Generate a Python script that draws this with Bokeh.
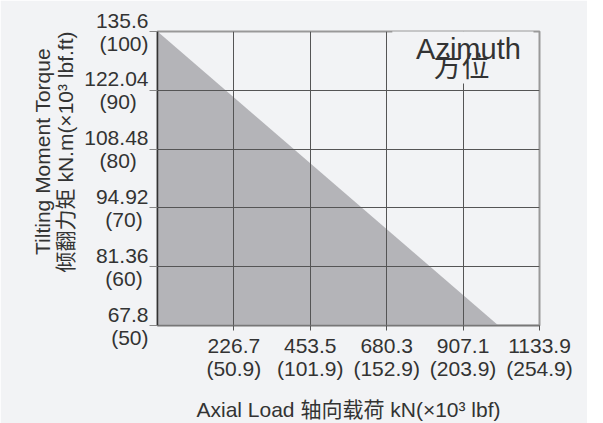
import math
from bokeh.plotting import figure
from bokeh.models import Range1d, Label, FixedTicker, Title
from bokeh.embed import file_html
from bokeh.resources import INLINE

# Axis ticks: axial load kN with (x10^3 lbf) equivalents
axial_ticks = [226.7, 453.5, 680.3, 907.1, 1133.9]
axial_ticks_lbf = ["50.9", "101.9", "152.9", "203.9", "254.9"]
# Tilting moment kN.m with (x10^3 lbf.ft) equivalents
moment_ticks = [67.8, 81.36, 94.92, 108.48, 122.04, 135.6]
moment_ticks_lbf = ["50", "60", "70", "80", "90", "100"]

# Load capacity boundary (straight line)
curve_axial = [0, 1012]
curve_moment = [135.6, 67.8]

BG = "#f2f3f5"
FONT = "Liberation Sans, Noto Sans CJK SC"
TXT = "#333333"


def _em(s):
    # approximate Arial advance widths, used to centre the two label lines
    w = {".": 0.278, "(": 0.333, ")": 0.333}
    return sum(w.get(c, 0.556) for c in s)


def two_line(top, bottom):
    pad = max(0, round((_em(top) - _em(bottom)) / 2 / 0.278))
    return f"{top}\n{bottom}" + "\u00a0" * pad


p = figure(frame_width=382, frame_height=294,
           x_range=Range1d(0, axial_ticks[-1]), y_range=Range1d(moment_ticks[0], moment_ticks[-1]),
           output_backend="svg", toolbar_location=None,
           min_border_left=157, min_border_right=48, min_border_top=31, min_border_bottom=92,
           background_fill_color=BG, border_fill_color=BG,
           outline_line_color="#999999", outline_line_width=2)

p.varea(x=curve_axial, y1=[moment_ticks[0]] * len(curve_axial), y2=curve_moment,
        fill_color="#b4b4b8", level="image")

# inner grid lines
p.xgrid.ticker = FixedTicker(ticks=axial_ticks[:-1])
p.ygrid.ticker = FixedTicker(ticks=moment_ticks[1:-1])
for g in (p.xgrid, p.ygrid):
    g.grid_line_color = "#555555"
    g.grid_line_width = 1
    g.level = "underlay"

# background patch behind the "Azimuth" caption (hides grid there)
p.quad(left=697, right=1116, bottom=123.6, top=140, fill_color=BG, line_color=None, level="glyph")

# axes
p.xaxis.ticker = axial_ticks
p.xaxis.major_label_overrides = {v: f"{v}\n({l})" for v, l in zip(axial_ticks, axial_ticks_lbf)}
p.yaxis.ticker = moment_ticks
p.yaxis.major_label_overrides = {v: two_line(str(v), f"({l})") for v, l in zip(moment_ticks, moment_ticks_lbf)}

for ax in (p.xaxis[0], p.yaxis[0]):
    ax.major_tick_in = 0
    ax.minor_tick_line_color = None
    ax.major_label_text_font = FONT
    ax.major_label_text_font_size = "21px"
    ax.major_label_text_line_height = 1.0
    ax.major_label_text_color = TXT
    ax.axis_label_text_font = FONT
    ax.axis_label_text_font_size = "21px"
    ax.axis_label_text_font_style = "normal"
    ax.axis_label_text_color = TXT

p.yaxis.major_tick_out = 8
p.yaxis.axis_line_color = "#333333"
p.yaxis.axis_line_width = 1.5
p.yaxis.major_tick_line_color = "#888888"
p.yaxis.major_label_standoff = 1

p.xaxis.major_tick_out = 5
p.xaxis.axis_line_color = "#777777"
p.xaxis.axis_line_width = 1.5
p.xaxis.major_tick_line_color = "#555555"
p.xaxis.major_label_standoff = 3
p.xaxis.axis_label = "Axial Load 轴向载荷 kN(×10³ lbf)"
p.xaxis.axis_label_standoff = 15

# caption
p.add_layout(Label(x=923, y=131.45, text="Azimuth", text_align="center", text_baseline="alphabetic",
                   text_font=FONT, text_font_size="29px", text_color=TXT))
p.add_layout(Label(x=902, y=127.3, text="方位", text_align="center", text_baseline="middle",
                   text_font=FONT, text_font_size="28px", text_color=TXT))

# y axis title (two lines; first line padded so both lines are centred)
y_title_1 = "Tilting Moment Torque"
y_title_2 = "倾翻力矩 kN.m(×10³ lbf.ft)"
p.add_layout(Title(text="\u00a0" * 3 + y_title_1 + "\n" + y_title_2, align="right", offset=0,
                   text_font=FONT, text_font_size="21px", text_font_style="normal", text_color=TXT),
             "left")

open("out.html", "w").write(file_html(p, INLINE))
